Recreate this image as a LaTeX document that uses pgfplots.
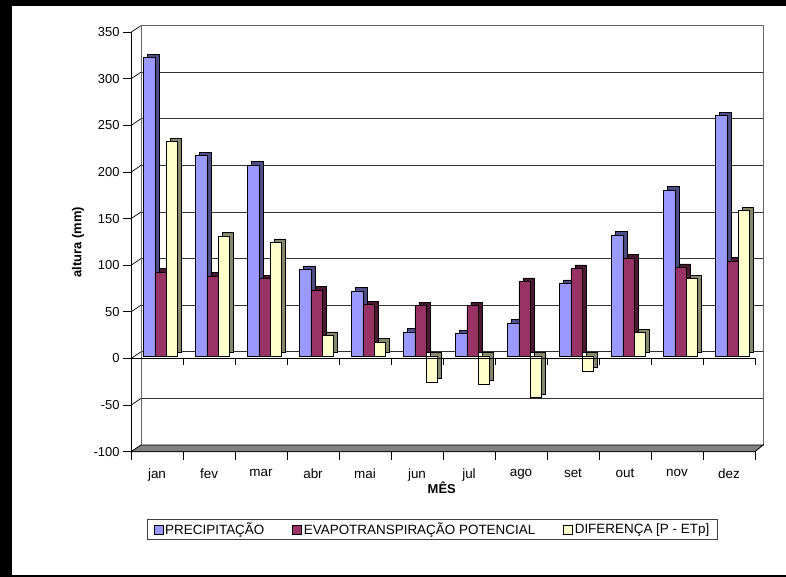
\documentclass[border=0pt]{standalone}
\usepackage{pgfplots}
\usepackage{pgfplotstable}
\pgfplotsset{compat=1.18}
\usepackage{fontspec}
\setmainfont{Liberation Sans}

\definecolor{cP}{HTML}{9999FF}
\definecolor{cPs}{HTML}{4D4D85}
\definecolor{cE}{HTML}{993366}
\definecolor{cEs}{HTML}{4A1830}
\definecolor{cD}{HTML}{FFFFCC}
\definecolor{cDs}{HTML}{86866A}

\pgfplotstableread{
x P E D
1 320 90 230
2 215 86 129
3 205 83 122
4 93 71 22
5 70 55 15
6 26 54 -28
7 24 54 -30
8 35.5 80 -44.5
9 78 94 -16
10 130 105 25
11 178 95 83
12 258 102 156
}\datatable

\begin{document}
\begin{tikzpicture}[x=1bp,y=1bp]
\useasboundingbox (0,0) rectangle (786,577);
\fill[black] (0,0) rectangle (12,577);
\fill[black] (0,571.3) rectangle (786,577);
\fill[black] (0,0) rectangle (786,2.3);

% back wall
\begin{axis}[at={(141bp,132bp)}, anchor=south west, scale only axis,
  width=622bp, height=419.4bp,
  xmin=0.5, xmax=12.5, ymin=-100, ymax=350,
  xtick=\empty, ytick={-100,-50,0,50,100,150,200,250,300,350}, yticklabels={},
  major tick length=0pt,
  ymajorgrids, grid style={draw=black!80, line width=0.8bp},
  axis line style={draw=black!60, line width=0.9bp}]
\end{axis}

% front
\begin{axis}[at={(131bp,125.3bp)}, anchor=south west, scale only axis,
  width=624bp, height=419.4bp,
  xmin=0.5, xmax=12.5, ymin=-100, ymax=350,
  axis x line*=bottom, axis y line*=left,
  axis line style={line width=0.9bp, -},
  xtick={0.5,1.5,2.5,3.5,4.5,5.5,6.5,7.5,8.5,9.5,10.5,11.5,12.5}, xticklabels={},
  extra x ticks={1,2,3,4,5,6,7,8,9,10,11,12},
  extra x tick labels={jan,fev,mar,abr,mai,jun,jul,ago,set,out,nov,dez},
  extra x tick style={major tick length=0pt, tick label style={yshift=-14bp, font=\fontsize{13.5}{15}\selectfont}},
  ytick={-100,-50,0,50,100,150,200,250,300,350},
  tick align=outside, major tick length=8bp,
  tick style={black, line width=0.8bp},
  /pgf/number format/assume math mode=true,
  tick label style={font=\fontsize{13}{15}\selectfont},
  clip=false,
  ylabel={altura (mm)},
  ylabel style={at={(axis description cs:-0.085,0.5)}, anchor=center, font=\fontsize{13}{15}\selectfont\bfseries},
  xlabel={MÊS},
  xlabel style={at={(axis description cs:0.498,-0.0866)}, anchor=center, font=\fontsize{13}{15}\selectfont\bfseries},
  legend columns=3,
  legend style={at={(axis description cs:0.4832,-0.1855)}, anchor=center,
    draw=black!75, line width=0.8bp, font=\fontsize{13.5}{15}\selectfont,
    inner xsep=6bp, inner ysep=1.5bp,
    /tikz/every even column/.append style={column sep=26bp}},
  legend image code/.code={\draw[#1, line width=0.5bp] (0bp,-7bp) rectangle (9bp,2bp);},
]
% floor
\filldraw[fill=gray, draw=black, line width=0.8bp] (axis cs:0.5,-100) -- (axis cs:12.5,-100) -- ([xshift=8bp,yshift=6.7bp]axis cs:12.5,-100) -- ([xshift=10bp,yshift=6.7bp]axis cs:0.5,-100) -- cycle;

\addplot[ybar, bar width=11.3bp, bar shift=-3.7bp, yshift=6bp, fill=cPs, draw=black, line width=0.5bp, forget plot] table[x=x,y=P]{\datatable};
\addplot[ybar, bar width=11.3bp, bar shift=-7.7bp, yshift=2.5bp, fill=cP, draw=black, line width=0.5bp] table[x=x,y=P]{\datatable};
\addlegendentry{PRECIPITAÇÃO}
\addplot[ybar, bar width=11.3bp, bar shift=7.6bp, yshift=6bp, fill=cEs, draw=black, line width=0.5bp, forget plot] table[x=x,y=E]{\datatable};
\addplot[ybar, bar width=11.3bp, bar shift=3.6bp, yshift=2.5bp, fill=cE, draw=black, line width=0.5bp] table[x=x,y=E]{\datatable};
\addlegendentry{EVAPOTRANSPIRAÇÃO POTENCIAL}
\addplot[ybar, bar width=11.3bp, bar shift=18.9bp, yshift=6bp, fill=cDs, draw=black, line width=0.5bp, forget plot] table[x=x,y=D]{\datatable};
\addplot[ybar, bar width=11.3bp, bar shift=14.9bp, yshift=2.5bp, fill=cD, draw=black, line width=0.5bp] table[x=x,y=D]{\datatable};
\addlegendentry{DIFERENÇA [P - ETp]}

% zero line, left wall diagonals and zero-line ticks
\draw[line width=0.9bp] (axis cs:0.5,0) -- (axis cs:12.5,0);
\draw[line width=0.7bp] (axis cs:0.5,-50) -- ([xshift=10bp,yshift=6.7bp]axis cs:0.5,-50);
\draw[line width=0.7bp] (axis cs:0.5,0) -- ([xshift=10bp,yshift=6.7bp]axis cs:0.5,0);
\draw[line width=0.7bp] (axis cs:0.5,50) -- ([xshift=10bp,yshift=6.7bp]axis cs:0.5,50);
\draw[line width=0.7bp] (axis cs:0.5,100) -- ([xshift=10bp,yshift=6.7bp]axis cs:0.5,100);
\draw[line width=0.7bp] (axis cs:0.5,150) -- ([xshift=10bp,yshift=6.7bp]axis cs:0.5,150);
\draw[line width=0.7bp] (axis cs:0.5,200) -- ([xshift=10bp,yshift=6.7bp]axis cs:0.5,200);
\draw[line width=0.7bp] (axis cs:0.5,250) -- ([xshift=10bp,yshift=6.7bp]axis cs:0.5,250);
\draw[line width=0.7bp] (axis cs:0.5,300) -- ([xshift=10bp,yshift=6.7bp]axis cs:0.5,300);
\draw[line width=0.7bp] (axis cs:0.5,350) -- ([xshift=10bp,yshift=6.7bp]axis cs:0.5,350);
\draw[line width=0.8bp] (axis cs:1.5,0) -- ([yshift=-7bp]axis cs:1.5,0);
\draw[line width=0.8bp] (axis cs:2.5,0) -- ([yshift=-7bp]axis cs:2.5,0);
\draw[line width=0.8bp] (axis cs:3.5,0) -- ([yshift=-7bp]axis cs:3.5,0);
\draw[line width=0.8bp] (axis cs:4.5,0) -- ([yshift=-7bp]axis cs:4.5,0);
\draw[line width=0.8bp] (axis cs:5.5,0) -- ([yshift=-7bp]axis cs:5.5,0);
\draw[line width=0.8bp] (axis cs:6.5,0) -- ([yshift=-7bp]axis cs:6.5,0);
\draw[line width=0.8bp] (axis cs:7.5,0) -- ([yshift=-7bp]axis cs:7.5,0);
\draw[line width=0.8bp] (axis cs:8.5,0) -- ([yshift=-7bp]axis cs:8.5,0);
\draw[line width=0.8bp] (axis cs:9.5,0) -- ([yshift=-7bp]axis cs:9.5,0);
\draw[line width=0.8bp] (axis cs:10.5,0) -- ([yshift=-7bp]axis cs:10.5,0);
\draw[line width=0.8bp] (axis cs:11.5,0) -- ([yshift=-7bp]axis cs:11.5,0);
\draw[line width=0.8bp] (axis cs:12.5,0) -- ([yshift=-7bp]axis cs:12.5,0);
\end{axis}
\end{tikzpicture}
\end{document}
